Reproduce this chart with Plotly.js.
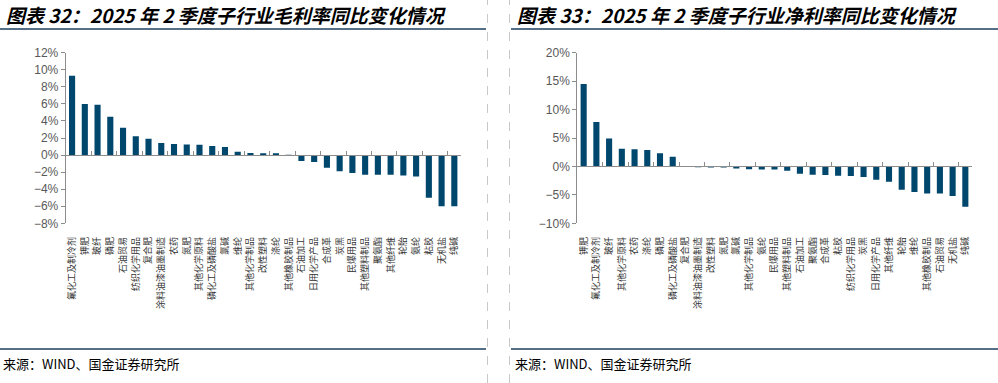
<!DOCTYPE html>
<html>
<head>
<meta charset="utf-8">
<script src="https://cdn.plot.ly/plotly-3.0.1.min.js"></script>
<style>
html,body{margin:0;padding:0;background:#fff;}
#chart{width:998px;height:383px;}
</style>
</head>
<body>
<div id="chart"></div>
<script>
// ---- Data: left chart (gross margin YoY change, %) ----
const grossCategories = ["氟化工及制冷剂","钾肥","玻纤","磷肥","石油贸易","纺织化学用品","复合肥","涂料油漆油墨制造","农药","氮肥","其他化学原料","磷化工及磷酸盐","氯碱","维纶","其他化学制品","改性塑料","涤纶","其他橡胶制品","石油加工","日用化学产品","合成革","炭黑","民爆用品","其他塑料制品","聚氨酯","其他纤维","轮胎","氨纶","粘胶","无机盐","纯碱"];
const grossValues = [9.3,6.0,5.9,4.5,3.2,2.2,1.9,1.4,1.3,1.25,1.2,1.05,0.95,0.4,0.25,0.2,0.2,0.05,-0.7,-0.8,-1.5,-1.9,-2.1,-2.3,-2.3,-2.3,-2.4,-2.5,-5.0,-6.0,-6.0];

// ---- Data: right chart (net margin YoY change, %) ----
const netCategories = ["钾肥","氟化工及制冷剂","玻纤","其他化学原料","农药","涤纶","磷肥","磷化工及磷酸盐","复合肥","涂料油漆油墨制造","改性塑料","氮肥","氯碱","其他化学制品","氨纶","民爆用品","其他塑料制品","石油加工","聚氨酯","合成革","粘胶","纺织化学用品","炭黑","日用化学产品","其他纤维","轮胎","维纶","其他橡胶制品","石油贸易","无机盐","纯碱"];
const netValues = [14.5,7.8,4.9,3.1,3.0,2.9,2.3,1.7,-0.1,-0.15,-0.2,-0.2,-0.35,-0.5,-0.55,-0.55,-0.75,-1.3,-1.45,-1.5,-1.65,-1.7,-1.85,-2.35,-2.7,-4.1,-4.5,-4.75,-4.75,-5.2,-7.1];

// ---- Text ----
const titleLeft = "图表 32：2025 年 2 季度子行业毛利率同比变化情况";
const titleRight = "图表 33：2025 年 2 季度子行业净利率同比变化情况";
const sourceText = "来源：WIND、国金证券研究所";

const W = 998, H = 383;
const px = v => v / W;
const py = v => 1 - v / H;

const barColor = "#00476e";
const axisColor = "#8c8c8c";
const cjk = "Noto Sans CJK SC, sans-serif";

const yDom = [py(223.3), py(52.7)];
const xDomL = [px(65.7), px(460.7)];
const xDomR = [px(577.3), px(971.7)];

const leftRange = [-8, 12];
const rightRange = [-10, 20];
const zeroPos = (r) => yDom[0] + (0 - r[0]) / (r[1] - r[0]) * (yDom[1] - yDom[0]);

const traces = [
  {type:"bar", x:grossCategories, y:grossValues, xaxis:"x", yaxis:"y", marker:{color:barColor}, hoverinfo:"x+y"},
  {type:"bar", x:netCategories, y:netValues, xaxis:"x2", yaxis:"y2", marker:{color:barColor}, hoverinfo:"x+y"},
  // invisible helpers so the zero-line axes know the categories
  {type:"scatter", mode:"markers", x:grossCategories, y:grossValues, xaxis:"x3", yaxis:"y", marker:{opacity:0}, hoverinfo:"skip"},
  {type:"scatter", mode:"markers", x:netCategories, y:netValues, xaxis:"x4", yaxis:"y2", marker:{opacity:0}, hoverinfo:"skip"}
];

const catAxis = (dom, anchor) => ({
  domain: dom, anchor: anchor, type:"category", range:[-0.5,30.5],
  showline:false, showgrid:false, zeroline:false,
  ticks:"outside", ticklen:9, tickcolor:"rgba(0,0,0,0)",
  tickangle:-90, tickfont:{family:cjk, size:9, color:"#333333"}, automargin:false
});
const zeroAxis = (overlay, pos) => ({
  overlaying: overlay, anchor:"free", position: pos, type:"category", range:[-0.5,30.5],
  showline:true, linecolor:axisColor, linewidth:1, showgrid:false, zeroline:false,
  ticks:"inside", tickson:"boundaries", ticklen:4, tickcolor:axisColor,
  showticklabels:false, side:"bottom"
});
const valAxis = (dom, anchor, range, dtick) => ({
  domain: dom, anchor: anchor, range: range, dtick: dtick, ticksuffix:"%",
  showline:true, linecolor:axisColor, linewidth:1, showgrid:false, zeroline:false,
  ticks:"outside", ticklen:4, tickcolor:axisColor,
  tickfont:{family:"Liberation Sans, Arial, sans-serif", size:12, color:"#595959"}, automargin:false
});

const layout = {
  width: W, height: H,
  margin:{l:0,r:0,t:0,b:0,pad:0},
  paper_bgcolor:"#ffffff", plot_bgcolor:"rgba(0,0,0,0)",
  showlegend:false, bargap:0.52,
  xaxis: catAxis(xDomL, "y"),
  xaxis2: catAxis(xDomR, "y2"),
  xaxis3: zeroAxis("x", zeroPos(leftRange)),
  xaxis4: zeroAxis("x2", zeroPos(rightRange)),
  yaxis: valAxis(yDom, "x", leftRange, 2),
  yaxis2: valAxis(yDom, "x2", rightRange, 5),
  annotations:[
    {text:titleLeft, xref:"paper", yref:"paper", x:px(4), y:py(15), xanchor:"left", yanchor:"middle", showarrow:false,
     font:{family:cjk, size:19, color:"#000", weight:"bold", style:"italic"}},
    {text:titleRight, xref:"paper", yref:"paper", x:px(515), y:py(15), xanchor:"left", yanchor:"middle", showarrow:false,
     font:{family:cjk, size:19, color:"#000", weight:"bold", style:"italic"}},
    {text:sourceText, xref:"paper", yref:"paper", x:px(1), y:py(363), xanchor:"left", yanchor:"middle", showarrow:false,
     font:{family:cjk, size:13, color:"#000"}},
    {text:sourceText, xref:"paper", yref:"paper", x:px(513), y:py(363), xanchor:"left", yanchor:"middle", showarrow:false,
     font:{family:cjk, size:13, color:"#000"}}
  ],
  shapes:[
    {type:"line", xref:"paper", yref:"paper", x0:0, x1:px(486), y0:py(29), y1:py(29), line:{color:"#1d3f5e", width:1.5}},
    {type:"line", xref:"paper", yref:"paper", x0:px(511), x1:1, y0:py(29), y1:py(29), line:{color:"#1d3f5e", width:1.5}},
    {type:"line", xref:"paper", yref:"paper", x0:0, x1:px(486), y0:py(349), y1:py(349), line:{color:"#1d3f5e", width:1.5}},
    {type:"line", xref:"paper", yref:"paper", x0:px(511), x1:1, y0:py(349), y1:py(349), line:{color:"#1d3f5e", width:1.5}},
    {type:"line", xref:"paper", yref:"paper", x0:px(487.5), x1:px(487.5), y0:0, y1:1, line:{color:"#c8c8c8", width:1, dash:"dash"}},
    {type:"line", xref:"paper", yref:"paper", x0:px(509.5), x1:px(509.5), y0:0, y1:1, line:{color:"#c8c8c8", width:1, dash:"dash"}}
  ]
};

Plotly.newPlot("chart", traces, layout, {displayModeBar:false, staticPlot:true});
</script>
</body>
</html>
